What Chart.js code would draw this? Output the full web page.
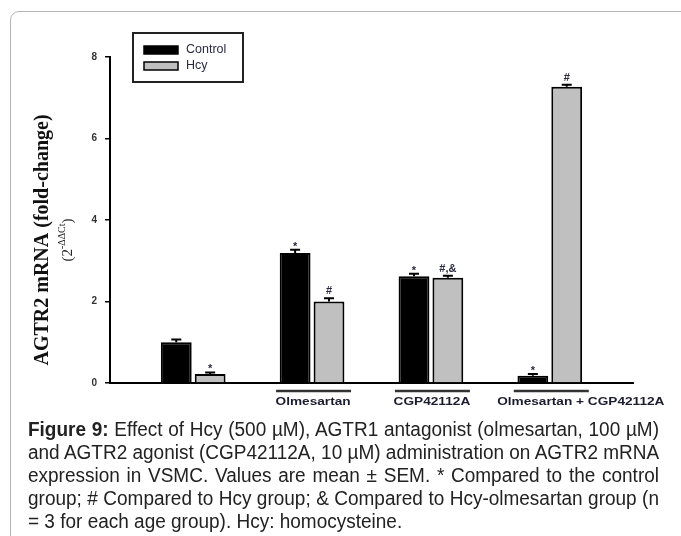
<!DOCTYPE html>
<html lang="en">
<head>
<meta charset="UTF-8">
<title>AGTR2 mRNA expression</title>
<script src="https://cdn.jsdelivr.net/npm/chart.js"></script>
<style>
  html, body { margin: 0; overflow: hidden; background: #fff; }
  body { width: 681px; height: 536px; position: relative; font-family: "Liberation Sans", Arial, sans-serif; }
  #frame { position: absolute; left: 10px; top: 11px; width: 720px; height: 600px; border: 1px solid #b5b5b5; border-radius: 9px; }
  #chartBox { position: absolute; left: 0; top: 0; width: 681px; height: 430px; }
  /* the caption font in the figure is narrow, it gets squeezed to fit below */
  #caption { position: absolute; left: 28px; top: 418px; width: 631px; font-size: 19.5px; line-height: 23px; color: #222;
             transform-origin: 0 0; }
  #caption div { white-space: nowrap; text-align: justify; text-align-last: justify; }
  #caption div.last { text-align-last: left; }
</style>
</head>
<body>
<div id="frame"></div>
<div id="chartBox"><canvas id="chart" width="681" height="430"></canvas></div>
<div id="caption">
  <div><span><b>Figure 9:</b> Effect of Hcy (500 µM), AGTR1 antagonist (olmesartan, 100 µM)</span></div>
  <div><span>and AGTR2 agonist (CGP42112A, 10 µM) administration on AGTR2 mRNA</span></div>
  <div><span>expression in VSMC. Values are mean ± SEM. * Compared to the control</span></div>
  <div><span>group; # Compared to Hcy group; &amp; Compared to Hcy-olmesartan group (n</span></div>
  <div class="last"><span>= 3 for each age group). Hcy: homocysteine.</span></div>
</div>
<script>
// values
const groupLabels = ['', 'Olmesartan', 'CGP42112A', 'Olmesartan + CGP42112A'];
const controlValues = [1.0, 3.19, 2.62, 0.18];
const hcyValues = [0.22, 2.0, 2.58, 7.27];
const controlErr = [0.07, 0.08, 0.06, 0.04];
const hcyErr = [0.04, 0.08, 0.05, 0.05];
const controlMarks = ['', '*', '*', '*'];
const hcyMarks = ['*', '#', '#,&', '#'];
const yTicks = [0, 2, 4, 6, 8];

const errs = [controlErr, hcyErr];
const marks = [controlMarks, hcyMarks];

// squeeze the caption so its widest line fills the 631px box
(function fitCaption() {
  const cap = document.getElementById('caption');
  const spans = cap.querySelectorAll('span');
  let widest = 0;
  spans.forEach(s => { widest = Math.max(widest, s.offsetWidth); });
  const k = Math.min(1, 631 / widest);
  cap.style.width = (631 / k) + 'px';
  cap.style.transform = 'scaleX(' + k + ')';
})();

// error bars + significance marks
const errorBars = {
  id: 'errorBars',
  afterDatasetsDraw(chart) {
    const ctx = chart.ctx;
    const ys = chart.scales.y;
    chart.data.datasets.forEach((ds, d) => {
      const meta = chart.getDatasetMeta(d);
      meta.data.forEach((bar, i) => {
        const top = ys.getPixelForValue(ds.data[i].y + errs[d][i]);
        ctx.save();
        ctx.strokeStyle = '#000';
        ctx.lineWidth = 2;
        ctx.beginPath();
        ctx.moveTo(bar.x, bar.y);
        ctx.lineTo(bar.x, top);
        ctx.moveTo(bar.x - 5, top);
        ctx.lineTo(bar.x + 5, top);
        ctx.stroke();
        const m = marks[d][i];
        if (m) {
          ctx.fillStyle = '#2a2a40';
          ctx.font = 'bold 11px "Liberation Sans", Arial, sans-serif';
          ctx.textAlign = 'center';
          ctx.textBaseline = 'middle';
          ctx.fillText(m, bar.x, top - (m === '*' ? 3 : 7));
        }
        ctx.restore();
      });
    });
  }
};

// group names with the line over them, legend box, y title
const labelShift = [0, 0, 0, 30];
const decorations = {
  id: 'decorations',
  afterDraw(chart) {
    const ctx = chart.ctx;
    const xs = chart.scales.x;
    const area = chart.chartArea;
    ctx.save();
    groupLabels.forEach((l, i) => {
      if (!l) return;
      const cx = xs.getPixelForValue(i);
      ctx.strokeStyle = '#333';
      ctx.lineWidth = 2.5;
      ctx.beginPath();
      ctx.moveTo(cx - 36, area.bottom + 8);
      ctx.lineTo(cx + 39, area.bottom + 8);
      ctx.stroke();
      ctx.save();
      ctx.translate(cx + 1 + labelShift[i], area.bottom + 19);
      ctx.scale(1.3, 1);
      ctx.fillStyle = '#1c1c30';
      ctx.font = 'bold 10.5px "Liberation Sans", Arial, sans-serif';
      ctx.textAlign = 'center';
      ctx.textBaseline = 'middle';
      ctx.fillText(l, 0, 0);
      ctx.restore();
    });

    // legend
    ctx.lineWidth = 2;
    ctx.strokeStyle = '#222';
    ctx.strokeRect(133, 33, 110, 49);
    ctx.font = '12.5px "Liberation Sans", Arial, sans-serif';
    ctx.textBaseline = 'middle';
    chart.data.datasets.forEach((ds, d) => {
      const y = 46 + d * 16;
      ctx.fillStyle = ds.backgroundColor;
      ctx.fillRect(144, y, 34, 8);
      ctx.strokeStyle = '#000';
      ctx.lineWidth = 1.5;
      ctx.strokeRect(144, y, 34, 8);
      ctx.fillStyle = '#2a2a45';
      ctx.fillText(ds.label, 186, y + 4);
    });

    // y axis title
    ctx.translate(43, 240);
    ctx.rotate(-Math.PI / 2);
    ctx.fillStyle = '#111';
    ctx.textAlign = 'center';
    ctx.font = 'bold 20px "Liberation Serif", "Times New Roman", serif';
    ctx.fillText('AGTR2 mRNA (fold-change)', 0, 0);
    // second line: (2^-ΔΔCt)
    const big = '15px "Liberation Serif", serif';
    const small = '10px "Liberation Serif", serif';
    ctx.font = big; const w1 = ctx.measureText('(2').width; const w3 = ctx.measureText(')').width;
    ctx.font = small; const w2 = ctx.measureText('-ΔΔCt').width;
    let x = -(w1 + w2 + w3) / 2;
    ctx.textAlign = 'left';
    ctx.fillStyle = '#222';
    ctx.font = big; ctx.fillText('(2', x, 25); x += w1;
    ctx.font = small; ctx.fillText('-ΔΔCt', x, 19); x += w2;
    ctx.font = big; ctx.fillText(')', x, 25);
    ctx.restore();
  }
};

new Chart(document.getElementById('chart'), {
  type: 'bar',
  data: {
    datasets: [
      { label: 'Control', data: controlValues.map((v, i) => ({ x: i, y: v })), backgroundColor: '#000000', borderColor: '#000', borderWidth: 2 },
      { label: 'Hcy', data: hcyValues.map((v, i) => ({ x: i, y: v })), backgroundColor: '#c0c0c0', borderColor: '#000', borderWidth: 2 }
    ]
  },
  options: {
    responsive: false,
    animation: false,
    categoryPercentage: 0.57,
    barPercentage: 0.91,
    layout: { padding: { left: 0, right: 48, top: 57, bottom: 7 } },
    plugins: { legend: { display: false }, tooltip: { enabled: false } },
    scales: {
      x: {
        type: 'linear',
        min: -0.7,
        max: 3.7,
        offset: false,
        grid: { display: false },
        border: { display: true, width: 2, color: '#000' },
        afterBuildTicks: s => { s.ticks = groupLabels.map((l, i) => ({ value: i })); },
        afterFit: s => { s.height = 40; },
        ticks: { display: false }
      },
      y: {
        min: 0,
        max: 8,
        afterBuildTicks: s => { s.ticks = yTicks.map(v => ({ value: v })); },
        afterFit: s => { s.width = 110; },
        grid: { display: true, drawOnChartArea: false, drawTicks: true, tickLength: 5, color: '#000', lineWidth: 1.5 },
        border: { display: true, width: 2, color: '#000' },
        ticks: {
          padding: 8,
          color: '#333',
          font: { family: '"Liberation Sans", Arial, sans-serif', size: 10, weight: 'bold' }
        }
      }
    }
  },
  plugins: [errorBars, decorations]
});
</script>
</body>
</html>
